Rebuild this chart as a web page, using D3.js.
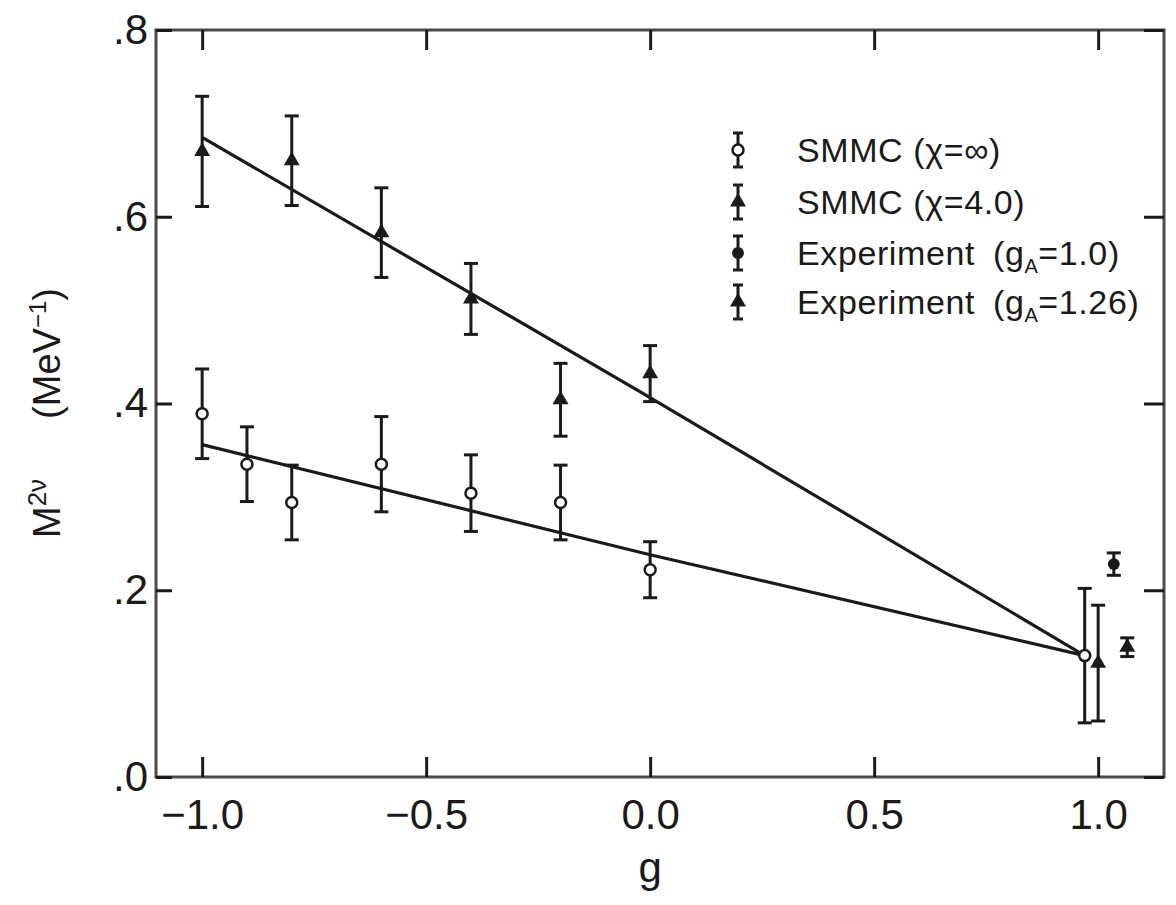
<!DOCTYPE html>
<html>
<head>
<meta charset="utf-8">
<script src="https://cdn.jsdelivr.net/npm/d3@7"></script>
<style>
  html, body { margin: 0; padding: 0; background: #fff; }
  svg { display: block; }
  text { font-family: "Liberation Sans", Arial, Helvetica, sans-serif; fill: #1a1a1a; }
</style>
</head>
<body>
<svg id="chart" width="1176" height="905"></svg>
<script>
// ---- data ----
const xTicks = [-1.0, -0.5, 0.0, 0.5, 1.0];
const xTickLabels = ["\u22121.0", "\u22120.5", "0.0", "0.5", "1.0"];
const yTicks = [0.0, 0.2, 0.4, 0.6, 0.8];
const yTickLabels = [".0", ".2", ".4", ".6", ".8"];

// SMMC (chi = infinity), open circles
const gSMMCinf   = [-1.0, -0.9, -0.8, -0.6, -0.4, -0.2, 0.0, 0.97];
const mSMMCinf   = [0.389, 0.335, 0.294, 0.335, 0.304, 0.294, 0.222, 0.13];
const eSMMCinf   = [0.048, 0.040, 0.040, 0.051, 0.041, 0.040, 0.030, 0.072];

// SMMC (chi = 4.0), filled triangles
const gSMMC4     = [-1.0, -0.8, -0.6, -0.4, -0.2, 0.0, 1.0];
const mSMMC4     = [0.670, 0.660, 0.583, 0.512, 0.404, 0.432, 0.122];
const eSMMC4     = [0.059, 0.048, 0.048, 0.038, 0.039, 0.030, 0.062];

// Experiment
const gExp10     = [1.035];
const mExp10     = [0.228];
const eExp10     = [0.012];
const gExp126    = [1.065];
const mExp126    = [0.139];
const eExp126    = [0.010];

// Fitted lines
const fitUpperG  = [-1.0, -0.02, 0.97];
const fitUpperM  = [0.685, 0.412, 0.13];
const fitLowerG  = [-1.0, 0.0, 0.97];
const fitLowerM  = [0.356, 0.238, 0.13];

const legendLabels = ["SMMC (\u03c7=\u221e)", "SMMC (\u03c7=4.0)", "Experiment", "Experiment"];

// ---- layout ----
const svg = d3.select("#chart");
const L = 156, R = 1164, T = 30, B = 777;
const x = d3.scaleLinear().domain([-1.103, 1.147]).range([L, R]);
const y = d3.scaleLinear().domain([0, 0.8]).range([B, T]);
const ink = "#1a1a1a";

// frame
svg.append("rect").attr("x", L).attr("y", T).attr("width", R - L).attr("height", B - T)
  .attr("fill", "none").attr("stroke", "#4a4a4a").attr("stroke-width", 3);

// axes (ticks inward)
const ax = svg.append("g");
const bottomAxis = d3.axisBottom(x).tickValues(xTicks).tickSize(-20)
  .tickFormat((d, i) => xTickLabels[i]).tickPadding(22);
const gB = ax.append("g").attr("transform", `translate(0,${B})`).call(bottomAxis);
const topAxis = d3.axisTop(x).tickValues(xTicks).tickSize(-20).tickFormat("");
const gT = ax.append("g").attr("transform", `translate(0,${T})`).call(topAxis);
const leftAxis = d3.axisLeft(y).tickValues(yTicks).tickSize(-16)
  .tickFormat((d, i) => yTickLabels[i]).tickPadding(8);
const gL = ax.append("g").attr("transform", `translate(${L},0)`).call(leftAxis);
const rightAxis = d3.axisRight(y).tickValues(yTicks).tickSize(-20).tickFormat("");
const gR = ax.append("g").attr("transform", `translate(${R},0)`).call(rightAxis);
[gB, gT, gL, gR].forEach(g => {
  g.select(".domain").remove();
  g.selectAll(".tick line").attr("stroke", ink).attr("stroke-width", 3);
  g.selectAll(".tick text").style("font-size", "42px").attr("fill", ink);
});
gB.selectAll(".tick text").attr("dy", "0.71em");

// axis titles
svg.append("text").attr("x", x(0)).attr("y", 882).attr("text-anchor", "middle")
  .style("font-size", "42px").text("g");

const yl = svg.append("text").attr("transform", "translate(60,538) rotate(-90)")
  .attr("text-anchor", "start").style("font-size", "38px");
yl.append("tspan").text("M");
yl.append("tspan").attr("dy", -14).style("font-size", "26px").text("2\u03bd");
yl.append("tspan").attr("dy", 14).attr("dx", 60).text("(MeV");
yl.append("tspan").attr("dy", -14).style("font-size", "24px").text("\u22121");
yl.append("tspan").attr("dy", 14).text(")");

// fit lines
const line = d3.line().x(d => x(d[0])).y(d => y(d[1]));
svg.append("path").datum(d3.zip(fitUpperG, fitUpperM)).attr("d", line)
  .attr("fill", "none").attr("stroke", ink).attr("stroke-width", 3.2);
svg.append("path").datum(d3.zip(fitLowerG, fitLowerM)).attr("d", line)
  .attr("fill", "none").attr("stroke", ink).attr("stroke-width", 3.2);

// marker helpers
const triSym = d3.symbol().type(d3.symbolTriangle).size(110);
const circSym = d3.symbol().type(d3.symbolCircle).size(110);
function errBars(gs, ms, es, cap) {
  const g = svg.append("g").attr("stroke", ink).attr("stroke-width", 3);
  gs.forEach((gv, i) => {
    const cx = x(gv), y0 = y(ms[i] - es[i]), y1 = y(ms[i] + es[i]);
    g.append("line").attr("x1", cx).attr("x2", cx).attr("y1", y0).attr("y2", y1);
    g.append("line").attr("x1", cx - cap).attr("x2", cx + cap).attr("y1", y0).attr("y2", y0);
    g.append("line").attr("x1", cx - cap).attr("x2", cx + cap).attr("y1", y1).attr("y2", y1);
  });
}
function markers(gs, ms, kind) {
  gs.forEach((gv, i) => {
    const t = `translate(${x(gv)},${y(ms[i])})`;
    if (kind === "open") {
      svg.append("circle").attr("cx", x(gv)).attr("cy", y(ms[i])).attr("r", 5.5)
        .attr("fill", "#fff").attr("stroke", ink).attr("stroke-width", 2.5);
    } else if (kind === "tri") {
      svg.append("path").attr("d", triSym()).attr("transform", t).attr("fill", ink);
    } else {
      svg.append("path").attr("d", circSym()).attr("transform", t).attr("fill", ink);
    }
  });
}
errBars(gSMMCinf, mSMMCinf, eSMMCinf, 7);
errBars(gSMMC4, mSMMC4, eSMMC4, 7);
errBars(gExp10, mExp10, eExp10, 7);
errBars(gExp126, mExp126, eExp126, 7);
markers(gSMMCinf, mSMMCinf, "open");
markers(gSMMC4, mSMMC4, "tri");
markers(gExp10, mExp10, "fill");
markers(gExp126, mExp126, "tri");

// legend
const legY = [150, 202, 253, 302];
const legKinds = ["open", "tri", "fill", "tri"];
const lx = 738;
legY.forEach((ly, i) => {
  const g = svg.append("g").attr("stroke", ink).attr("stroke-width", 3);
  g.append("line").attr("x1", lx).attr("x2", lx).attr("y1", ly - 17).attr("y2", ly + 17);
  g.append("line").attr("x1", lx - 5).attr("x2", lx + 5).attr("y1", ly - 17).attr("y2", ly - 17);
  g.append("line").attr("x1", lx - 5).attr("x2", lx + 5).attr("y1", ly + 17).attr("y2", ly + 17);
  if (legKinds[i] === "open") {
    svg.append("circle").attr("cx", lx).attr("cy", ly).attr("r", 5.5)
      .attr("fill", "#fff").attr("stroke", ink).attr("stroke-width", 2.5);
  } else if (legKinds[i] === "tri") {
    svg.append("path").attr("d", triSym()).attr("transform", `translate(${lx},${ly})`).attr("fill", ink);
  } else {
    svg.append("path").attr("d", circSym()).attr("transform", `translate(${lx},${ly})`).attr("fill", ink);
  }
  const t = svg.append("text").attr("x", 797).attr("y", ly + 12)
    .style("font-size", "34px").style("letter-spacing", "0.6px");
  if (i < 2) {
    t.text(legendLabels[i]);
  } else {
    t.append("tspan").text(legendLabels[i]);
    t.append("tspan").attr("dx", 18).text("(g");
    t.append("tspan").attr("dy", 8).style("font-size", "20px").text("A");
    t.append("tspan").attr("dy", -8).text(i === 2 ? "=1.0)" : "=1.26)");
  }
});
</script>
</body>
</html>
